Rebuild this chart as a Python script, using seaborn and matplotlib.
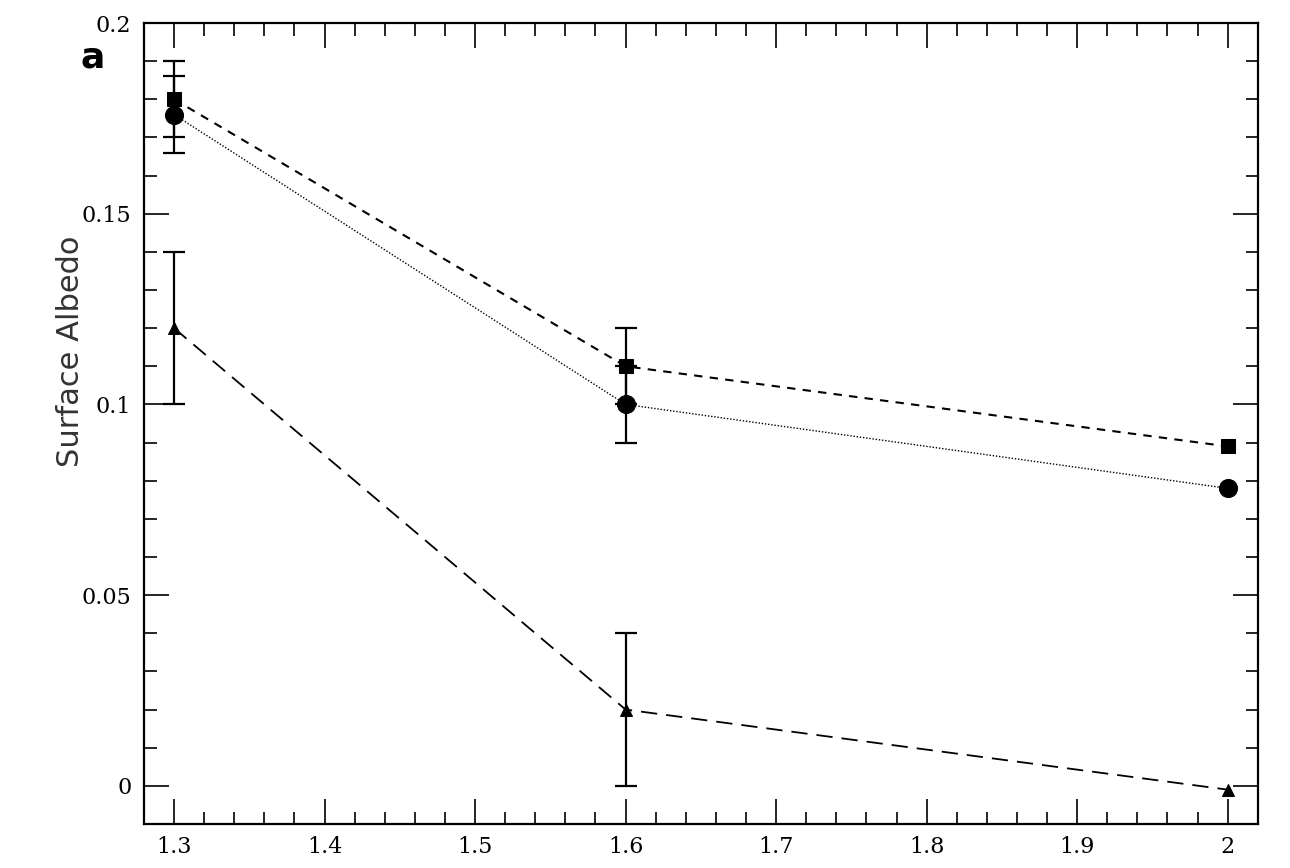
import matplotlib
matplotlib.use("Agg")
import matplotlib.pyplot as plt
import seaborn as sns
import pandas as pd
from matplotlib.ticker import MultipleLocator, FuncFormatter

# data
wavelength = [1.3, 1.6, 2.0]
albedo_sq = [0.180, 0.110, 0.089]
err_sq = [0.010, 0.010, 0.0]
albedo_circ = [0.176, 0.100, 0.078]
err_circ = [0.010, 0.010, 0.0]
albedo_tri = [0.120, 0.020, -0.001]
err_tri = [0.020, 0.020, 0.0]

sns.set_style("ticks")
plt.rcParams['font.family'] = ['DejaVu Serif']
plt.rcParams['text.color'] = 'black'
plt.rcParams['xtick.color'] = 'black'
plt.rcParams['ytick.color'] = 'black'
plt.rcParams['axes.edgecolor'] = 'black'

fig = plt.figure(figsize=(12.9, 8.68), dpi=100)
ax = fig.add_axes([0.1116, 0.0507, 0.8634, 0.9228])

series = [
    (albedo_sq, err_sq, 's', 10, (0, (4, 3.5)), 1.5),
    (albedo_circ, err_circ, 'o', 13, (0, (1, 1.3)), 1.0),
    (albedo_tri, err_tri, '^', 9, (0, (9, 5)), 1.3),
]

for vals, errs, mk, ms, ls, lw in series:
    df = pd.DataFrame({'x': wavelength, 'y': vals})
    sns.lineplot(data=df, x='x', y='y', ax=ax, color='black', marker=mk,
                 markersize=ms, markeredgecolor='black', linestyle=ls,
                 linewidth=lw, legend=False)
    # error bars (skip zero-length ones)
    ex = [x for x, e in zip(wavelength, errs) if e > 0]
    ey = [y for y, e in zip(vals, errs) if e > 0]
    ee = [e for e in errs if e > 0]
    ax.errorbar(ex, ey, yerr=ee, fmt='none', ecolor='black',
                elinewidth=1.6, capsize=8, capthick=1.6)

ax.set_xlim(1.28, 2.02)
ax.set_ylim(-0.01, 0.2)

ax.xaxis.set_major_locator(MultipleLocator(0.1))
ax.xaxis.set_minor_locator(MultipleLocator(0.02))
ax.yaxis.set_major_locator(MultipleLocator(0.05))
ax.yaxis.set_minor_locator(MultipleLocator(0.01))
fmt = FuncFormatter(lambda v, p: '%g' % round(v, 4))
ax.xaxis.set_major_formatter(fmt)
ax.yaxis.set_major_formatter(fmt)

ax.tick_params(which='both', direction='in', top=True, right=True,
               labelsize=16, width=1.2, pad=9)
ax.tick_params(which='major', length=18)
ax.tick_params(which='minor', length=9)
for sp in ax.spines.values():
    sp.set_linewidth(1.6)

ax.set_xlabel('')
ax.set_ylabel('Surface Albedo', fontsize=22, family='DejaVu Sans',
              color='#333333')
ax.yaxis.set_label_coords(-0.053, 0.59)

fig.text(0.072, 0.934, 'a', fontsize=26, fontweight='bold',
         family='DejaVu Sans', ha='center', va='center', color='black')

fig.savefig('out.png', dpi=100)
